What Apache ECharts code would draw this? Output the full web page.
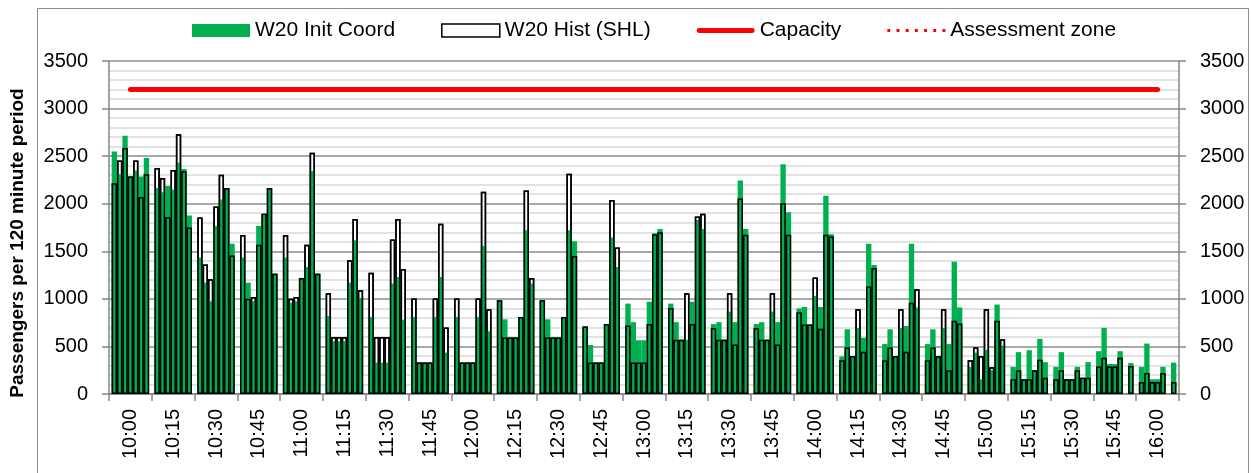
<!DOCTYPE html>
<html>
<head>
<meta charset="utf-8">
<title>W20 passengers per 120 minute period</title>
<script src="https://cdn.jsdelivr.net/npm/echarts@6/dist/echarts.min.js"></script>
<style>
  html, body { margin: 0; padding: 0; background: #fff; }
  #chart { width: 1251px; height: 473px; }
</style>
</head>
<body>
<div id="chart"></div>
<script>
// one label per 15 minute block
var times = ["10:00", "10:15", "10:30", "10:45", "11:00", "11:15", "11:30", "11:45",
  "12:00", "12:15", "12:30", "12:45", "13:00", "13:15", "13:30", "13:45",
  "14:00", "14:15", "14:30", "14:45", "15:00", "15:15", "15:30", "15:45", "16:00"];

// 7 bars per block, W20 Init Coord (green)
var initCoord = [
  [2550, 2310, 2715, 2285, 2350, 2285, 2480],
  [2165, 2120, 2185, 2150, 2430, 2365, 1875],
  [1435, 1170, 975, 1765, 2045, 2165, 1580],
  [1435, 1170, 975, 1765, 1875, 2165, 1265],
  [1435, 960, 975, 1220, 1335, 2345, 1265],
  [820, 555, 555, 555, 1170, 1615, 1010],
  [810, 330, 330, 330, 1160, 1230, 780],
  [810, 330, 330, 330, 810, 1230, 435],
  [810, 330, 330, 330, 810, 1555, 660],
  [985, 785, 595, 595, 810, 1720, 1160],
  [985, 785, 595, 595, 810, 1720, 1605],
  [710, 515, 330, 330, 735, 1645, 1335],
  [950, 755, 565, 565, 970, 1690, 1735],
  [950, 755, 570, 570, 970, 1830, 1735],
  [735, 755, 570, 865, 755, 2245, 1735],
  [735, 755, 570, 865, 755, 2415, 1910],
  [900, 915, 730, 1030, 915, 2085, 1680],
  [395, 680, 400, 695, 590, 1580, 1355],
  [525, 680, 400, 695, 715, 1580, 910],
  [525, 680, 400, 695, 525, 1390, 910],
  [285, 435, 155, 465, 250, 940, 510],
  [285, 440, 155, 460, 250, 580, 335],
  [285, 440, 155, 155, 285, 170, 335],
  [450, 695, 315, 315, 450, null, 325],
  [285, 530, 155, 155, 285, null, 330]
];

// W20 Hist (SHL) (white, black outline)
var histShl = [
  [2215, 2455, 2585, 2285, 2455, 2070, 2310],
  [2375, 2270, 1860, 2355, 2730, 2340, 1750],
  [1855, 1360, 1205, 1970, 2305, 2165, 1455],
  [1670, 1000, 1020, 1570, 1895, 2165, 1265],
  [1670, 1000, 1020, 1220, 1570, 2535, 1265],
  [1060, 600, 600, 600, 1405, 1840, 1090],
  [1275, 600, 600, 600, 1625, 1840, 1315],
  [1005, 330, 330, 330, 1005, 1790, 700],
  [1005, 330, 330, 330, 1005, 2125, 890],
  [985, 595, 595, 595, 810, 2140, 1220],
  [985, 595, 595, 595, 810, 2315, 1450],
  [710, 330, 330, 330, 735, 2040, 1540],
  [720, 330, 330, 330, 735, 1680, 1700],
  [905, 570, 570, 1060, 735, 1865, 1895],
  [695, 570, 570, 1060, 520, 2055, 1675],
  [695, 570, 570, 1060, 520, 2005, 1675],
  [860, 730, 730, 1225, 685, 1675, 1655],
  [355, 490, 400, 890, 445, 1130, 1325],
  [355, 490, 400, 890, 445, 960, 1100],
  [355, 490, 400, 890, 250, 770, 740],
  [355, 490, 400, 890, 280, 770, 575],
  [155, 250, 155, 155, 250, 360, 170],
  [155, 250, 155, 155, 250, 170, 170],
  [290, 380, 290, 290, 380, null, 295],
  [125, 220, 125, 125, 220, null, 125]
];

var capacity = [3200, 3200, 3200, 3200, 3200, 3200, 3200, 3200, 3200, 3200, 3200, 3200, 3200,
  3200, 3200, 3200, 3200, 3200, 3200, 3200, 3200, 3200, 3200, 3200, 3200];
var assessmentZone = [];

// flatten blocks onto a fine axis: 7 bars + 1 empty slot per block
var slots = [], initData = [], histData = [];
times.forEach(function (t, g) {
  for (var s = 0; s < 8; s++) {
    slots.push(t + "#" + s);
    initData.push(s < 7 ? initCoord[g][s] : null);
    histData.push(s < 7 ? histShl[g][s] : null);
  }
});

var FONT = "Liberation Sans";
var GREEN = "#00b050";
var GRAY = "#868686";
var LEFT = 109, RIGHT = 72, TOP = 61, BOTTOM = 79;
var HALF_SLOT = (1251 - LEFT - RIGHT) / slots.length / 2;

var chart = echarts.init(document.getElementById("chart"));

var yAxisBase = {
  type: "value",
  min: 0,
  max: 3500,
  interval: 500,
  axisLine: { show: true, lineStyle: { color: GRAY, width: 1.5 } },
  axisTick: { show: true, inside: false, length: 7, lineStyle: { color: GRAY, width: 1.5 } },
  axisLabel: {
    fontFamily: FONT, fontSize: 20, color: "#000", margin: 21,
    formatter: function (v) { return String(v); }
  }
};

chart.setOption({
  backgroundColor: "#fff",
  animation: false,
  textStyle: { fontFamily: FONT },
  graphic: [
    {
      type: "rect",
      shape: { x: 37.5, y: 8.5, width: 1211, height: 480 },
      style: { fill: null, stroke: "#8c8c8c", lineWidth: 1 },
      silent: true
    },
    {
      type: "text",
      x: 18,
      y: 243,
      rotation: Math.PI / 2,
      style: {
        text: "Passengers per 120 minute period",
        fontFamily: FONT,
        fontSize: 19,
        fontWeight: "bold",
        fill: "#000",
        textAlign: "center",
        textVerticalAlign: "middle"
      }
    }
  ],
  legend: {
    left: 187,
    top: 15,
    itemWidth: 58,
    itemHeight: 13,
    itemGap: 46,
    symbolKeepAspect: true,
    textStyle: { fontFamily: FONT, fontSize: 21, color: "#000" },
    data: [
      { name: "W20 Init Coord", icon: "rect", itemStyle: { color: GREEN, borderWidth: 0 } },
      { name: "W20 Hist (SHL)", icon: "rect", itemStyle: { color: "#fff", borderColor: "#000", borderWidth: 1.5 } },
      {
        name: "Capacity",
        icon: "path://M2.5,0L57.5,0A2.5,2.5,0,0,1,57.5,5L2.5,5A2.5,2.5,0,0,1,2.5,0Z",
        itemStyle: { color: "#ff0000", borderWidth: 0 }
      },
      {
        name: "Assessment zone",
        icon: "path://M0,0h3v3h-3zM9.5,0h3v3h-3zM19,0h3v3h-3zM28.5,0h3v3h-3zM38,0h3v3h-3zM47.5,0h3v3h-3zM57,0h3v3h-3z",
        itemStyle: { color: "#ff0000", borderWidth: 0 }
      }
    ]
  },
  grid: [
    { left: LEFT, right: RIGHT, top: TOP, bottom: BOTTOM },
    // same plot shifted half a slot so each block of bars is centred between its ticks
    { left: LEFT + HALF_SLOT, right: RIGHT - HALF_SLOT, top: TOP, bottom: BOTTOM }
  ],
  xAxis: [
    {
      type: "category",
      gridIndex: 0,
      data: times,
      position: "bottom",
      axisLine: { show: true, lineStyle: { color: GRAY, width: 1.5 } },
      axisTick: { show: true, interval: 0, length: 7, lineStyle: { color: GRAY, width: 1.5 } },
      axisLabel: { interval: 0, rotate: 90, fontFamily: FONT, fontSize: 20, color: "#000", margin: 15 },
      splitLine: { show: false }
    },
    {
      type: "category",
      gridIndex: 1,
      data: slots,
      show: false
    }
  ],
  yAxis: [
    Object.assign({}, yAxisBase, {
      gridIndex: 0,
      position: "left",
      splitLine: { show: true, lineStyle: { color: "#8c8c8c", width: 1.5 } },
      minorTick: { show: false, splitNumber: 5 },
      minorSplitLine: { show: true, lineStyle: { color: "#d9d9d9", width: 1.5 } }
    }),
    Object.assign({}, yAxisBase, {
      gridIndex: 0,
      position: "right",
      splitLine: { show: false }
    }),
    {
      type: "value",
      gridIndex: 1,
      min: 0,
      max: 3500,
      show: false
    }
  ],
  series: [
    {
      name: "W20 Hist (SHL)",
      type: "bar",
      xAxisIndex: 1,
      yAxisIndex: 2,
      data: histData,
      barGap: "-100%",
      barCategoryGap: "0%",
      itemStyle: { color: "#fff", borderColor: "#000", borderWidth: 1.5 }
    },
    {
      name: "W20 Init Coord",
      type: "bar",
      xAxisIndex: 1,
      yAxisIndex: 2,
      data: initData,
      barGap: "-100%",
      barCategoryGap: "0%",
      itemStyle: { color: GREEN }
    },
    {
      // outline of the hist bars drawn over the green
      id: "histOutline",
      type: "bar",
      xAxisIndex: 1,
      yAxisIndex: 2,
      data: histData,
      barGap: "-100%",
      barCategoryGap: "0%",
      silent: true,
      itemStyle: { color: "rgba(0,0,0,0)", borderColor: "#000", borderWidth: 1.5 }
    },
    {
      name: "Capacity",
      type: "line",
      xAxisIndex: 0,
      yAxisIndex: 0,
      data: capacity,
      symbol: "none",
      z: 5,
      lineStyle: { color: "#ff0000", width: 5, cap: "round" },
      itemStyle: { color: "#ff0000" }
    },
    {
      name: "Assessment zone",
      type: "line",
      xAxisIndex: 0,
      yAxisIndex: 0,
      data: assessmentZone,
      symbol: "none",
      lineStyle: { color: "#ff0000", width: 3, type: "dotted" },
      itemStyle: { color: "#ff0000" }
    }
  ]
});
</script>
</body>
</html>
